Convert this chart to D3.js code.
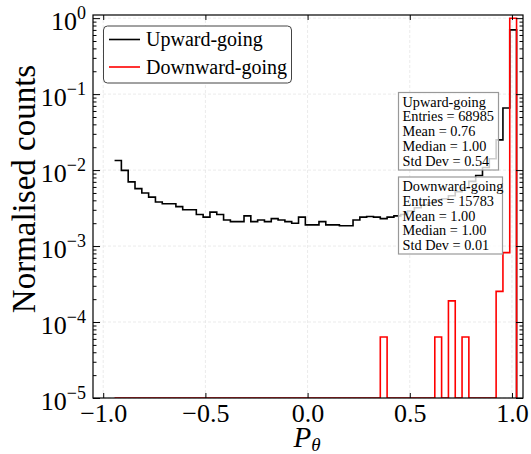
<!DOCTYPE html>
<html>
<head>
<meta charset="utf-8">
<script src="https://cdn.jsdelivr.net/npm/d3@7"></script>
<style>
  body { margin: 0; background: #fff; }
  svg { display: block; font-family: "Liberation Serif", "DejaVu Serif", serif; }
</style>
</head>
<body>
<div id="chart"></div>
<script>
// binning shared by both samples (P_theta)
const binLo = -0.9445;
const binHi = 1.0225;
const nBins = 59;

// normalised counts per bin
const upward = [
  0.0134, 0.0099, 0.0070, 0.0057, 0.0050, 0.0044, 0.0038, 0.0036, 0.0036, 0.0033,
  0.0030, 0.0030, 0.0026, 0.0024, 0.0028, 0.0026, 0.0022, 0.0021, 0.0021, 0.0025,
  0.0021, 0.0022, 0.0021, 0.0023, 0.0022, 0.0021, 0.0020, 0.0024, 0.0019, 0.0019,
  0.0021, 0.0019, 0.0019, 0.00185, 0.00185, 0.0022, 0.0024, 0.00245, 0.0024, 0.0023,
  0.0024, 0.0025, 0.0026, 0.0029, 0.0032, 0.0035, 0.0037, 0.0040, 0.0042, 0.0046,
  0.0052, 0.0058, 0.0071, 0.0085, 0.0108, 0.0141, 0.025, 0.0656, 0.70
];
const downward = [
  0, 0, 0, 0, 0, 0, 0, 0, 0, 0,
  0, 0, 0, 0, 0, 0, 0, 0, 0, 0,
  0, 0, 0, 0, 0, 0, 0, 0, 0, 0,
  0, 0, 0, 0, 0, 0, 0, 0, 0, 6.34e-5,
  0, 0, 0, 0, 0, 0, 0, 6.34e-5, 0, 1.9e-4,
  0, 6.34e-5, 0, 0, 0, 0, 2.53e-4, 8.2e-4, 0.9985
];

const xTicks = [-1.0, -0.5, 0.0, 0.5, 1.0];
const yTicks = [1e-5, 1e-4, 1e-3, 1e-2, 1e-1, 1];

const seriesNames = ["Upward-going", "Downward-going"];
const statsUp = ["Upward-going", "Entries = 68985", "Mean = 0.76", "Median = 1.00", "Std Dev = 0.54"];
const statsDown = ["Downward-going", "Entries = 15783", "Mean = 1.00", "Median = 1.00", "Std Dev = 0.01"];

const width = 531;
const height = 454;
const margin = { top: 15, right: 8, bottom: 56, left: 93 };

const svg = d3
  .select("#chart")
  .append("svg")
  .attr("width", width)
  .attr("height", height)
  .attr("viewBox", [0, 0, width, height]);

const x = d3.scaleLinear([-1.05, 1.054], [margin.left, width - margin.right]);
const y = d3.scaleLog([1e-5, 1.1], [height - margin.bottom, margin.top]);

const minorY = y.ticks().filter((t) => !yTicks.some((m) => Math.abs(t / m - 1) < 1e-6));

svg.append("defs").append("clipPath").attr("id", "plot")
  .append("rect")
  .attr("x", margin.left).attr("y", margin.top)
  .attr("width", width - margin.left - margin.right)
  .attr("height", height - margin.top - margin.bottom);

// grid
const grid = svg.append("g").attr("stroke", "#e6e6e6").attr("stroke-width", 0.8).attr("stroke-dasharray", "3,2");
grid.selectAll(".gx").data(xTicks).join("line")
  .attr("x1", (d) => x(d)).attr("x2", (d) => x(d))
  .attr("y1", margin.top).attr("y2", height - margin.bottom);
grid.selectAll(".gy").data(yTicks).join("line")
  .attr("y1", (d) => y(d)).attr("y2", (d) => y(d))
  .attr("x1", margin.left).attr("x2", width - margin.right);

// step outline of a histogram
const edge = (i) => binLo + (i * (binHi - binLo)) / nBins;
function stepPoints(vals, fromBottom) {
  const pts = [];
  if (fromBottom) pts.push([edge(0), 0]);
  vals.forEach((v, i) => {
    pts.push([edge(i), v]);
    pts.push([edge(i + 1), v]);
  });
  pts.push([edge(nBins), 0]);
  return pts;
}

const line = d3.line()
  .x((d) => x(d[0]))
  .y((d) => y(Math.max(d[1], y.domain()[0])));

svg.append("path")
  .attr("clip-path", "url(#plot)")
  .attr("fill", "none")
  .attr("stroke", "black")
  .attr("stroke-width", 1.6)
  .attr("d", line(stepPoints(upward, false)));

svg.append("path")
  .attr("clip-path", "url(#plot)")
  .attr("fill", "none")
  .attr("stroke", "red")
  .attr("stroke-width", 1.6)
  .attr("d", line(stepPoints(downward, true)));

// axes, ticks pointing inwards on all four sides
const yFmt = (d) => Math.round(Math.log10(d));

svg.append("g")
  .attr("transform", `translate(0,${height - margin.bottom})`)
  .call(d3.axisBottom(x).tickValues(xTicks).tickSize(-5).tickPadding(6).tickFormat(d3.format(".1f")))
  .call((g) => g.select(".domain").remove())
  .call((g) => g.selectAll("text").attr("font-size", 26).attr("font-family", "Liberation Serif, serif").attr("fill", "black"));

svg.append("g")
  .attr("transform", `translate(0,${margin.top})`)
  .call(d3.axisTop(x).tickValues(xTicks).tickSize(-5).tickFormat(""))
  .call((g) => g.select(".domain").remove());

svg.append("g")
  .attr("transform", `translate(${margin.left},0)`)
  .call(d3.axisLeft(y).tickValues(yTicks).tickSize(-7).tickPadding(7).tickFormat(""))
  .call((g) => g.select(".domain").remove())
  .call((g) =>
    g.selectAll(".tick text")
      .attr("font-size", 26)
      .attr("font-family", "Liberation Serif, serif")
      .attr("fill", "black")
      .attr("dy", "0.45em")
      .each(function (d) {
        const t = d3.select(this);
        t.append("tspan").text("10");
        t.append("tspan")
          .attr("font-size", 18)
          .attr("dy", "-0.62em")
          .text(String(yFmt(d)).replace("-", "\u2212"));
      })
  );

svg.append("g")
  .attr("transform", `translate(${margin.left},0)`)
  .call(d3.axisLeft(y).tickValues(minorY).tickSize(-3.5).tickFormat(""))
  .call((g) => g.select(".domain").remove());

svg.append("g")
  .attr("transform", `translate(${width - margin.right},0)`)
  .call(d3.axisRight(y).tickValues(yTicks).tickSize(-7).tickFormat(""))
  .call((g) => g.select(".domain").remove());

svg.append("g")
  .attr("transform", `translate(${width - margin.right},0)`)
  .call(d3.axisRight(y).tickValues(minorY).tickSize(-3.5).tickFormat(""))
  .call((g) => g.select(".domain").remove());

svg.append("rect")
  .attr("x", margin.left).attr("y", margin.top)
  .attr("width", width - margin.left - margin.right)
  .attr("height", height - margin.top - margin.bottom)
  .attr("fill", "none").attr("stroke", "black").attr("stroke-width", 1.2);

// axis titles
svg.append("text")
  .attr("x", 307).attr("y", 447)
  .attr("text-anchor", "middle")
  .attr("font-size", 29)
  .attr("font-style", "italic")
  .call((t) => t.append("tspan").text("P"))
  .call((t) => t.append("tspan").attr("font-size", 19).attr("dy", "0.2em").text("θ"));

svg.append("text")
  .attr("transform", "translate(35,189) rotate(-90)")
  .attr("text-anchor", "middle")
  .attr("font-size", 33)
  .text("Normalised counts");

// statistics boxes
function statBox(lines, bx, by, bw, bh) {
  const g = svg.append("g");
  g.append("rect")
    .attr("x", bx).attr("y", by).attr("width", bw).attr("height", bh)
    .attr("fill", "white").attr("fill-opacity", 0.8)
    .attr("stroke", "#999").attr("stroke-width", 1.2);
  g.selectAll("text").data(lines).join("text")
    .attr("x", bx + 4)
    .attr("y", (d, i) => by + 14 + i * 14.8)
    .attr("font-size", 14.3)
    .text((d) => d);
}
statBox(statsUp, 398.5, 92.5, 100, 77.5);
statBox(statsDown, 398.5, 177, 104, 77);

// legend
const legend = svg.append("g");
legend.append("rect")
  .attr("x", 103.5).attr("y", 26).attr("width", 188).attr("height", 57).attr("rx", 4)
  .attr("fill", "white").attr("stroke", "#444").attr("stroke-width", 1);
legend.selectAll("line").data(seriesNames).join("line")
  .attr("x1", 109).attr("x2", 140)
  .attr("y1", (d, i) => 39.5 + i * 27.5).attr("y2", (d, i) => 39.5 + i * 27.5)
  .attr("stroke", (d, i) => (i === 0 ? "black" : "red"))
  .attr("stroke-width", 1.6);
legend.selectAll("text").data(seriesNames).join("text")
  .attr("x", 146)
  .attr("y", (d, i) => 46 + i * 27.5)
  .attr("font-size", 20)
  .text((d) => d);
</script>
</body>
</html>
